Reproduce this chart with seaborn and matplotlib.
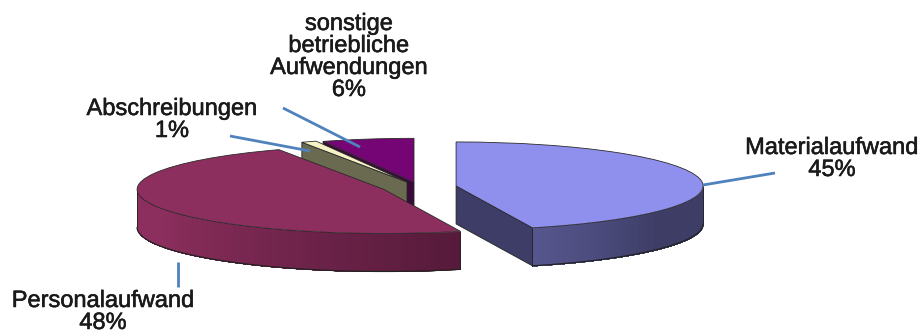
import numpy as np
import matplotlib
matplotlib.use("Agg")
import matplotlib.pyplot as plt
import matplotlib.colors as mc
import matplotlib.patheffects as pe
import seaborn as sns

categories = ["Materialaufwand", "Personalaufwand", "Abschreibungen", "sonstige\nbetriebliche\nAufwendungen"]
values = [45, 48, 1, 6]
labels_pct = ["45%", "48%", "1%", "6%"]
top_colors = ["#8f8fee", "#8d2f5e", "#f5f3c4", "#750575"]
explode = [0.152, 0.152, 0.122, 0.108]

W, H = 924, 334
RX, RY, DEPTH = 247.0, 44.0, 38.0
CX, CY = 419.0, 187.0

sns.set_theme(style="white")
plt.rcParams["font.family"] = ["Liberation Sans", "DejaVu Sans"]

fig = plt.figure(figsize=(W / 100, H / 100), dpi=100)
ax = fig.add_axes([0, 0, 1, 1])
wedges, _ = ax.pie(values, explode=explode, startangle=90, counterclock=False,
                   colors=sns.color_palette(top_colors), radius=1,
                   wedgeprops=dict(edgecolor="#2a2a2a", linewidth=0.6))
ax.set_xlim(-CX / RX, (W - CX) / RX)
ax.set_ylim(-(H - CY) / RY, CY / RY)
ax.set_aspect("auto")
ax.set_frame_on(False)
sns.despine(ax=ax, left=True, bottom=True)

d = DEPTH / RY
edges = np.concatenate([[0], np.cumsum(values)]) * 3.6
z_top = {0: 8, 1: 6, 2: 4, 3: 2}
for i, w in enumerate(wedges):
    w.set_zorder(z_top[i])


def pt(c, th):
    t = np.radians(th)
    return c[0] + np.sin(t), c[1] + np.cos(t)


def rim(i, a, b, c0, c1, a_grad=None, b_grad=None):
    c = wedges[i].center
    ths = np.linspace(a, b, 90)
    ag = a if a_grad is None else a_grad
    bg = b if b_grad is None else b_grad
    r0, r1 = np.array(mc.to_rgb(c0)), np.array(mc.to_rgb(c1))
    # each strip runs to the end of the wall; the next one paints over it, leaving no seams
    for t0 in ths[:-1]:
        f = np.clip((t0 - ag) / (bg - ag), 0, 1)
        col = r0 + (r1 - r0) * f
        part = np.linspace(t0, b, 60)
        xs, ys = pt(c, part)
        ax.fill_between(xs, ys, ys - d, color=col, linewidth=0, zorder=z_top[i] - 1)
    xs, ys = pt(c, ths)
    ax.plot(xs, ys - d, color="#222222", lw=0.9, zorder=z_top[i] - 0.5)
    for t in (a, b):
        x, y = pt(c, t)
        ax.plot([x, x], [y, y - d], color="#222222", lw=0.6, zorder=z_top[i] - 0.5)


def cut(i, th, col):
    c = wedges[i].center
    x, y = pt(c, th)
    ax.fill([c[0], x, x, c[0]], [c[1], y, y - d, c[1] - d], facecolor=col,
            edgecolor="#222222", linewidth=0.6, zorder=z_top[i] - 1)


# Walls
cut(0, edges[1], "#3d3d68")
rim(0, 90, edges[1], "#3d3d66", "#575790", a_grad=125, b_grad=edges[1])
rim(1, edges[1], 270, "#561a3a", "#8d2f5e", b_grad=245)
cut(2, edges[2], "#6a6a50")
cut(3, edges[3], "#3a0a3a")


def px(x, y):
    return (x - CX) / RX, (CY - y) / RY


# Leader lines
leaders = [((703, 185), (775, 173)), ((178, 262), (178, 287)),
           ((230, 136), (310, 151)), ((283, 108), (360, 147))]
for a, b in leaders:
    xa, ya = px(*a)
    xb, yb = px(*b)
    ax.plot([xa, xb], [ya, yb], color="#4f81bd", lw=2.0, zorder=20, solid_capstyle="butt")

# Labels
label_pos = [(832, 159), (103, 312), (172, 120), (349, 57)]
for name, pct, (x, y) in zip(categories, labels_pct, label_pos):
    xd, yd = px(x, y)
    ax.text(xd, yd, f"{name}\n{pct}", ha="center", va="center", fontsize=17,
            color="#1a1a1a", linespacing=1.0, zorder=21,
            path_effects=[pe.withStroke(linewidth=0.4, foreground="#1a1a1a")])

fig.savefig("out.png", dpi=100)
